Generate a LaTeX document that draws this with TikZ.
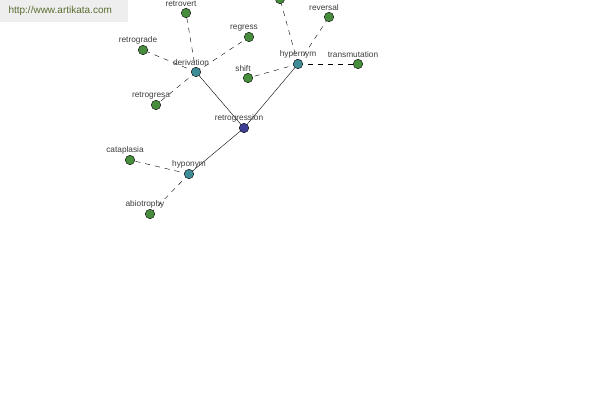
\documentclass[tikz,border=0pt]{standalone}
\usepackage{fontspec}
\setmainfont{Liberation Sans}
\definecolor{leafgreen}{RGB}{72, 140, 62}
\definecolor{relteal}{RGB}{62, 140, 150}
\definecolor{rootblue}{RGB}{62, 62, 150}
\definecolor{labelgray}{RGB}{60, 60, 60}
\definecolor{sitegreen}{RGB}{90, 110, 50}
\definecolor{sitebox}{RGB}{238, 238, 238}
\usetikzlibrary{positioning, backgrounds}

\begin{document}
\begin{tikzpicture}[x=1pt, y=-1pt,
    dot/.style={circle, draw=black, line width=0.4pt, minimum size=9.5pt, inner sep=0pt},
    leaf/.style={dot, fill=leafgreen},
    rel/.style={dot, fill=relteal},
    root/.style={dot, fill=rootblue},
    lbl/.style={font=\fontsize{8.3}{9}\selectfont, text=labelgray, inner sep=0.5pt, xshift=-5pt, yshift=0.5pt, label distance=0pt},
    link/.style={line width=0.4pt},
    dlink/.style={line width=0.4pt, dash pattern=on 5pt off 5pt}]
    \useasboundingbox (0,0) rectangle (600,400);

    % site banner
    \fill[sitebox] (0,0) rectangle (128,22);
    \node[font=\fontsize{10}{11}\selectfont, text=sitegreen, anchor=west] (site) at (5,11) {http://www.artikata.com};

    % centre and relation nodes
    \node[root, label={[lbl]above:retrogression}] (retrogression) at (244,128) {};
    \node[rel, label={[lbl]above:derivation}] (derivation) at (196,72) {};
    \node[rel, label={[lbl, xshift=5pt]above:hypernym}] (hypernym) at (298,64) {};
    \node[rel, label={[lbl, xshift=5pt]above:hyponym}] (hyponym) at (189,174) {};

    % words
    \foreach \n/\x/\y in {retrovert/186/13, regress/249/37, retrograde/143/50,
                          retrogresa/156/105, shift/248/78, reversal/329/17,
                          transmutation/358/64, cataplasia/130/160, abiotrophy/150/214}
        \node[leaf, label={[lbl]above:\n}] (\n) at (\x,\y) {};
    \node[leaf] (topword) at (280,-1) {};

    % relations
    \begin{pgfonlayer}{background}
    \foreach \a in {derivation, hypernym, hyponym}
        \draw[link] (retrogression.center) -- (\a.center);
    \foreach \a/\b in {derivation/retrovert, derivation/regress, derivation/retrograde,
                       derivation/retrogresa, hypernym/topword, hypernym/reversal,
                       hypernym/shift, hypernym/transmutation, hyponym/cataplasia,
                       hyponym/abiotrophy}
        \draw[dlink] (\a.center) -- (\b.center);
    \end{pgfonlayer}
\end{tikzpicture}
\end{document}
